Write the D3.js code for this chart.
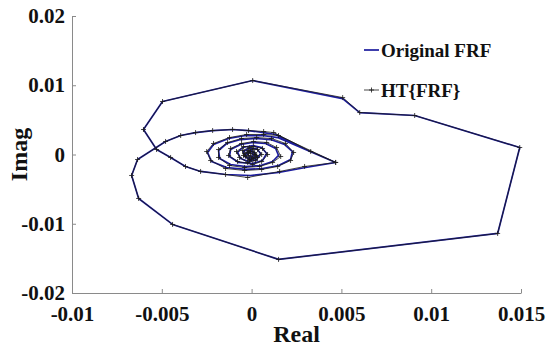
<!DOCTYPE html>
<html>
<head>
<meta charset="utf-8">
<script src="https://cdn.jsdelivr.net/npm/d3@7"></script>
<style>
  body { margin: 0; background: #fff; }
  svg text { font-family: "Liberation Serif", "Times New Roman", serif; font-weight: bold; }
</style>
</head>
<body>
<div id="chart"></div>
<script>
// Original FRF (real / imag), from the centre outwards
var frfRe = [0, 0.00011, 0.00006, -0.00011, -0.00022, -0.00011, 0.00011, 0.00022, 0.00017, -0.00006,
    -0.00028, -0.00033, -0.00022, 0,
    0.00028, -0.00006, -0.00039, -0.00045, -0.00017, 0.00028, 0.0005, 0.00028,
    -0.00017, -0.00061, -0.00078, -0.0005, 0.00006, 0.00056, 0.00084, 0.00061,
    0.00006, -0.00072, -0.00123, -0.00117, -0.00061, 0.00006, 0.00078, 0.00134, 0.0015, 0.00117,
    0.0005, -0.00033, -0.00117, -0.00178, -0.00184, -0.00139, -0.00061, 0.00022, 0.00106, 0.00184,
    0.00228, 0.00217, 0.0015, 0.00061, -0.00033, -0.00139, -0.00223, -0.00245, -0.00212, -0.00128,
    -0.00033, 0.00061, 0.00145, 0.00468,
    0.00301, 0.0015, -0.00006, -0.00145, -0.00284, -0.00368, -0.00451, -0.00529,
    -0.00602, -0.00496, 0.00006, 0.00507, 0.00602, 0.00908, 0.01493, 0.0137, 0.0015, -0.0044,
    -0.00629, -0.00668, -0.00635,
    -0.00479, -0.00395, -0.00312, -0.00217, -0.00106, -0.00017, 0.00067, 0.00134, 0.00301, 0.00468];
var frfIm = [0, 0.00014, -0.00029, -0.00029, 0, 0.00029, 0.00043, 0, -0.00043, -0.00058,
    -0.00043, 0, 0.00043, 0.00058,
    -0.00029, -0.00072, -0.00029, 0.00043, 0.00087, 0.00087, 0.00014, -0.00072,
    -0.00101, -0.00058, 0.00029, 0.00101, 0.0013, 0.00101, 0.00014, -0.00087,
    -0.0013, -0.00115, -0.00029, 0.00072, 0.00144, 0.00173, 0.00159, 0.00087, -0.00014, -0.00101,
    -0.00159, -0.00173, -0.00144, -0.00058, 0.00058, 0.00159, 0.00216, 0.00231, 0.00216, 0.00144,
    0.00043, -0.00072, -0.00159, -0.00202, -0.00216, -0.00188, -0.00101, 0.00029, 0.00144, 0.00231,
    0.00274, 0.00274, 0.00245, -0.00115,
    -0.00188, -0.0026, -0.00303, -0.00289, -0.00245, -0.00173, -0.00043, 0.00072,
    0.00361, 0.00765, 0.01068, 0.00808, 0.00606, 0.00563, 0.00101, -0.0114, -0.01515, -0.0101,
    -0.00635, -0.00303, -0.00072,
    0.00188, 0.00274, 0.00317, 0.00346, 0.00361, 0.00346, 0.00317, 0.00289, 0.00072, -0.00115];

// HT{FRF}, nearly on top of the original
var htRe = [-0.00006, 0.00017, 0, -0.00017, -0.00022, -0.00006, 0.00017, 0.00028, 0.00011, -0.00011,
    -0.00033, -0.00039, -0.00017, 0.00006,
    0.00033, -0.00011, -0.00045, -0.0005, -0.00011, 0.00033, 0.00056, 0.00022,
    -0.00022, -0.00067, -0.00084, -0.00045, 0.00011, 0.00061, 0.00089, 0.00056,
    0.00006, -0.00078, -0.00128, -0.00117, -0.00056, 0.00011, 0.00084, 0.00139, 0.00162, 0.00117,
    0.00045, -0.00039, -0.00123, -0.00184, -0.00184, -0.00134, -0.00056, 0.00028, 0.00111, 0.00189,
    0.00234, 0.00217, 0.00145, 0.00056, -0.00039, -0.00145, -0.00228, -0.0025, -0.00212, -0.00123,
    -0.00028, 0.00067, 0.0015, 0.00468,
    0.00295, 0.00156, -0.00022, -0.00145, -0.00284, -0.00368, -0.00451, -0.00529,
    -0.00602, -0.00496, 0.00006, 0.00507, 0.00602, 0.00908, 0.01493, 0.0137, 0.0015, -0.0044,
    -0.00629, -0.00668, -0.00635,
    -0.00479, -0.00395, -0.00312, -0.00217, -0.00106, -0.00017, 0.00067, 0.00123, 0.00329, 0.00468];
var htIm = [0.00014, 0, -0.00043, -0.00014, 0.00029, 0.00043, 0.00029, -0.00014, -0.00058, -0.00072,
    -0.00029, 0.00014, 0.00058, 0.00072,
    -0.00043, -0.00087, -0.00014, 0.00058, 0.00101, 0.00072, 0, -0.00087,
    -0.00115, -0.00043, 0.00043, 0.00115, 0.00115, 0.00087, 0, -0.00101,
    -0.00144, -0.00101, -0.00014, 0.00087, 0.00159, 0.00188, 0.00173, 0.00101, -0.00029, -0.00115,
    -0.00173, -0.00188, -0.00159, -0.00043, 0.00072, 0.00173, 0.00231, 0.00245, 0.00231, 0.00159,
    0.00029, -0.00087, -0.00173, -0.00216, -0.00231, -0.00202, -0.00087, 0.00043, 0.00159, 0.00245,
    0.00289, 0.00289, 0.00274, -0.00115,
    -0.00173, -0.00245, -0.00332, -0.00289, -0.00245, -0.00173, -0.00043, 0.00072,
    0.00361, 0.00765, 0.01068, 0.00822, 0.00606, 0.00563, 0.00101, -0.0114, -0.01515, -0.0101,
    -0.00635, -0.00303, -0.00072,
    0.00188, 0.00274, 0.00317, 0.00346, 0.00361, 0.00346, 0.00332, 0.00317, 0.00043, -0.00115];

var xTicks = [-0.01, -0.005, 0, 0.005, 0.01, 0.015];
var yTicks = [-0.02, -0.01, 0, 0.01, 0.02];
var legendNames = ["Original FRF", "HT{FRF}"];

var serif = "'Liberation Serif', 'Times New Roman', serif";

var margin = { top: 16, right: 29, bottom: 58, left: 72 },
    width = 550 - margin.left - margin.right,
    height = 351 - margin.top - margin.bottom;

var svg = d3.select("#chart").append("svg")
    .attr("width", 550)
    .attr("height", 351)
    .append("g")
    .attr("transform", "translate(" + margin.left + "," + margin.top + ")");

var x = d3.scaleLinear().domain([-0.01, 0.015]).range([0, width]);
var y = d3.scaleLinear().domain([-0.02, 0.02]).range([height, 0]);

var fmt = function(d) { return String(+d.toFixed(3)); };

var xAxis = svg.append("g")
    .attr("transform", "translate(0," + height + ")")
    .call(d3.axisBottom(x).tickValues(xTicks).tickFormat(fmt)
        .tickSizeInner(-4).tickSizeOuter(0).tickPadding(13));
var yAxis = svg.append("g")
    .call(d3.axisLeft(y).tickValues(yTicks).tickFormat(fmt)
        .tickSizeInner(-4).tickSizeOuter(0).tickPadding(7));

[xAxis, yAxis].forEach(function(a) {
    a.attr("font-family", serif).attr("font-size", 21).attr("font-weight", "bold");
    a.selectAll("path, line").attr("stroke", "#8a8a8a");
    a.selectAll("text").attr("fill", "#111");
});

svg.append("text")
    .attr("x", width / 2)
    .attr("y", 342 - margin.top)
    .attr("text-anchor", "middle")
    .style("font-size", "24px")
    .attr("fill", "#111")
    .text("Real");

svg.append("text")
    .attr("transform", "translate(" + (27 - margin.left) + "," + (height / 2) + ") rotate(-90)")
    .attr("text-anchor", "middle")
    .style("font-size", "24px")
    .attr("fill", "#111")
    .text("Imag");

var frf = frfRe.map(function(d, i) { return [d, frfIm[i]]; });
var ht = htRe.map(function(d, i) { return [d, htIm[i]]; });

var line = d3.line()
    .x(function(d) { return x(d[0]); })
    .y(function(d) { return y(d[1]); });

svg.append("path")
    .datum(frf)
    .attr("fill", "none")
    .attr("stroke", "#1c1c9e")
    .attr("stroke-width", 1.7)
    .attr("stroke-linejoin", "round")
    .attr("d", line);

svg.append("path")
    .datum(ht)
    .attr("fill", "none")
    .attr("stroke", "#1a1a1a")
    .attr("stroke-width", 0.8)
    .attr("d", line);

var plus = "M-2.5,0H2.5M0,-2.5V2.5";
svg.append("g").selectAll("path")
    .data(ht)
    .enter().append("path")
    .attr("transform", function(d) { return "translate(" + x(d[0]) + "," + y(d[1]) + ")"; })
    .attr("d", plus)
    .attr("stroke", "#1a1a1a")
    .attr("stroke-width", 0.8);

// legend
var legend = svg.append("g").attr("transform", "translate(" + (364 - margin.left) + "," + (50 - margin.top) + ")");
legend.append("line").attr("x1", 0).attr("x2", 15).attr("y1", 0).attr("y2", 0)
    .attr("stroke", "#1c1c9e").attr("stroke-width", 1.7);
legend.append("line").attr("x1", 0).attr("x2", 15).attr("y1", 40).attr("y2", 40)
    .attr("stroke", "#1a1a1a").attr("stroke-width", 0.8);
legend.append("path").attr("transform", "translate(7.5,40)").attr("d", plus)
    .attr("stroke", "#1a1a1a").attr("stroke-width", 0.8);
legend.selectAll("text")
    .data(legendNames)
    .enter().append("text")
    .attr("x", 17)
    .attr("y", function(d, i) { return 7 + i * 40; })
    .style("font-size", "19px")
    .attr("fill", "#111")
    .text(function(d) { return d; });
</script>
</body>
</html>
